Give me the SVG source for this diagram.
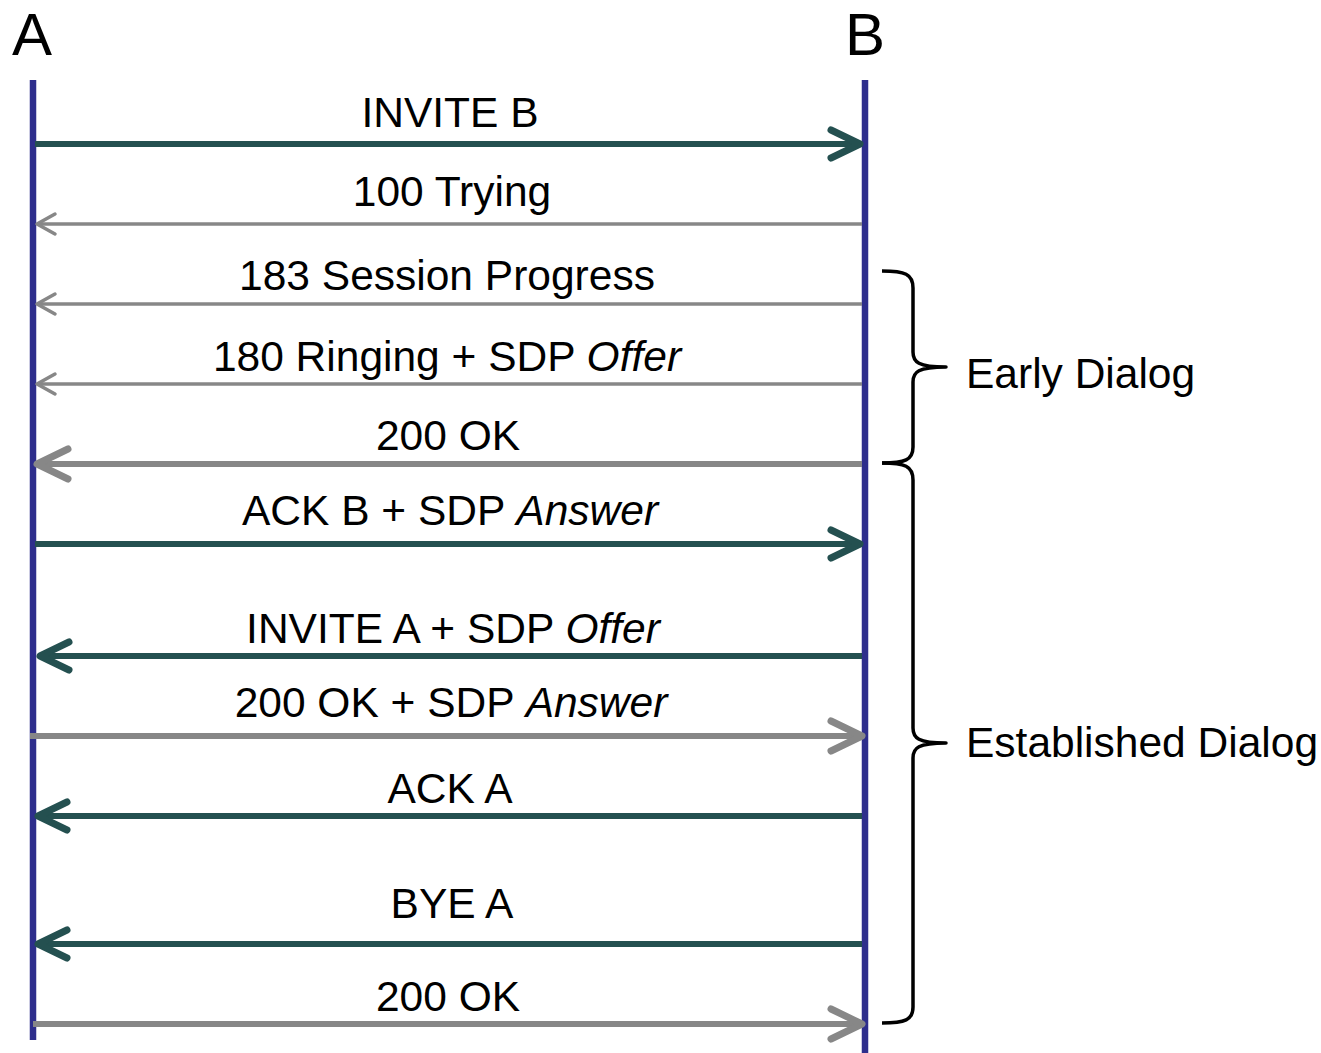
<svg xmlns="http://www.w3.org/2000/svg" width="1321" height="1053" viewBox="0 0 1321 1053">
  <style>
    .lifeline { stroke: #2e2e8c; stroke-width: 6.5; fill: none; }
    .msg-teal { stroke: #245050; stroke-width: 6; fill: none; }
    .msg-gray { stroke: #878787; stroke-width: 3.5; fill: none; }
    .msg-gray-bold { stroke: #878787; stroke-width: 6; fill: none; }
    .brace { stroke: #000; stroke-width: 3.5; fill: none; stroke-linejoin: round; }
    text { font-family: "Liberation Sans", Arial, sans-serif; fill: #000; }
    .actor { font-size: 60px; }
    .label { font-size: 42.5px; text-anchor: middle; }
    .phase { font-size: 42.5px; }
    .em { font-style: italic; }
  </style>
  <defs>
    <marker id="head-teal" markerUnits="userSpaceOnUse" viewBox="-40 -20 44 40" refX="0" refY="0" markerWidth="44" markerHeight="40" orient="auto" overflow="visible">
      <path d="M-29,-14 L0,0 L-29,14" stroke="#245050" stroke-width="7" fill="none" stroke-linecap="round" stroke-linejoin="round"/>
    </marker>
    <marker id="head-gray" markerUnits="userSpaceOnUse" viewBox="-30 -15 34 30" refX="0" refY="0" markerWidth="34" markerHeight="30" orient="auto" overflow="visible">
      <path d="M-18,-10 L0,0 L-18,10" stroke="#878787" stroke-width="3.5" fill="none" stroke-linecap="round" stroke-linejoin="round"/>
    </marker>
    <marker id="head-gray-bold" markerUnits="userSpaceOnUse" viewBox="-40 -20 44 40" refX="0" refY="0" markerWidth="44" markerHeight="40" orient="auto" overflow="visible">
      <path d="M-31,-15 L0,0 L-31,15" stroke="#878787" stroke-width="7" fill="none" stroke-linecap="round" stroke-linejoin="round"/>
    </marker>
  </defs>

  <rect width="1321" height="1053" fill="#fff"/>

  <!-- participants -->
  <g id="node-A">
    <text class="actor" x="12" y="55">A</text>
    <line class="lifeline" x1="33" y1="80" x2="33" y2="1040"/>
  </g>
  <g id="node-B">
    <text class="actor" x="845" y="55">B</text>
    <line class="lifeline" x1="865" y1="80" x2="865" y2="1053"/>
  </g>

  <!-- messages -->
  <g id="connectors">
    <line class="msg-teal" x1="35" y1="144" x2="860" y2="144" marker-end="url(#head-teal)"/>
    <line class="msg-gray" x1="862" y1="224" x2="37" y2="224" marker-end="url(#head-gray)"/>
    <line class="msg-gray" x1="862" y1="304" x2="37" y2="304" marker-end="url(#head-gray)"/>
    <line class="msg-gray" x1="862" y1="384" x2="37" y2="384" marker-end="url(#head-gray)"/>
    <line class="msg-gray-bold" x1="862" y1="464" x2="37" y2="464" marker-end="url(#head-gray-bold)"/>
    <line class="msg-teal" x1="35" y1="544" x2="860" y2="544" marker-end="url(#head-teal)"/>
    <line class="msg-teal" x1="862" y1="656" x2="40" y2="656" marker-end="url(#head-teal)"/>
    <line class="msg-gray-bold" x1="30" y1="736" x2="862" y2="736" marker-end="url(#head-gray-bold)"/>
    <line class="msg-teal" x1="862" y1="816" x2="38" y2="816" marker-end="url(#head-teal)"/>
    <line class="msg-teal" x1="862" y1="944" x2="38" y2="944" marker-end="url(#head-teal)"/>
    <line class="msg-gray-bold" x1="33" y1="1024" x2="862" y2="1024" marker-end="url(#head-gray-bold)"/>
  </g>

  <g id="message-labels">
    <text class="label" x="450" y="127">INVITE B</text>
    <text class="label" x="452" y="206">100 Trying</text>
    <text class="label" x="447" y="290">183 Session Progress</text>
    <text class="label" x="447" y="371">180 Ringing + SDP <tspan class="em">Offer</tspan></text>
    <text class="label" x="448" y="450">200 OK</text>
    <text class="label" x="450" y="525">ACK B + SDP <tspan class="em">Answer</tspan></text>
    <text class="label" x="453" y="643">INVITE A + SDP <tspan class="em">Offer</tspan></text>
    <text class="label" x="451" y="717">200 OK + SDP <tspan class="em">Answer</tspan></text>
    <text class="label" x="450" y="803">ACK A</text>
    <text class="label" x="452" y="918">BYE A</text>
    <text class="label" x="448" y="1011">200 OK</text>
  </g>

  <!-- dialog phases -->
  <g id="phase-early">
    <path class="brace" d="M882,271 C905,271 913,274 913,288 L913,352 C913,362 918,367 946,367 C918,367 913,372 913,382 L913,447 C913,460 905,463 882,463"/>
    <text class="phase" x="966" y="388">Early Dialog</text>
  </g>
  <g id="phase-established">
    <path class="brace" d="M882,463 C905,463 913,466 913,480 L913,728 C913,738 918,743 946,743 C918,743 913,748 913,758 L913,1007 C913,1020 905,1023 882,1023"/>
    <text class="phase" x="966" y="757">Established Dialog</text>
  </g>
</svg>
